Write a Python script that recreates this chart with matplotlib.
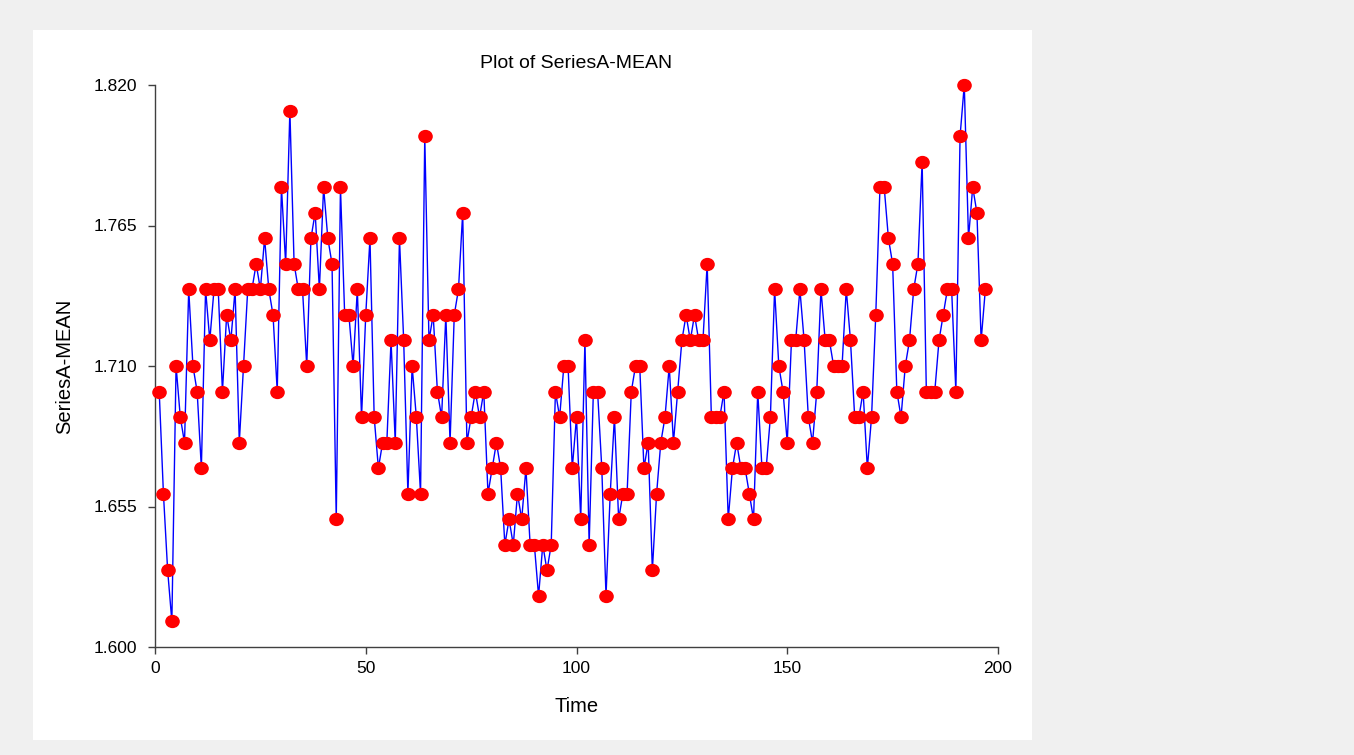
import matplotlib
matplotlib.use("Agg")
import matplotlib.pyplot as plt
from matplotlib.patches import Rectangle
from matplotlib.path import Path
import numpy as np

plt.rcParams['font.family'] = ['Liberation Sans', 'DejaVu Sans']

# series values (time = 1..197)
series_a_mean = [
    1.70, 1.66, 1.63, 1.61, 1.71, 1.69, 1.68, 1.74, 1.71, 1.70,
    1.67, 1.74, 1.72, 1.74, 1.74, 1.70, 1.73, 1.72, 1.74, 1.68,
    1.71, 1.74, 1.74, 1.75, 1.74, 1.76, 1.74, 1.73, 1.70, 1.78,
    1.75, 1.81, 1.75, 1.74, 1.74, 1.71, 1.76, 1.77, 1.74, 1.78,
    1.76, 1.75, 1.65, 1.78, 1.73, 1.73, 1.71, 1.74, 1.69, 1.73,
    1.76, 1.69, 1.67, 1.68, 1.68, 1.72, 1.68, 1.76, 1.72, 1.66,
    1.71, 1.69, 1.66, 1.80, 1.72, 1.73, 1.70, 1.69, 1.73, 1.68,
    1.73, 1.74, 1.77, 1.68, 1.69, 1.70, 1.69, 1.70, 1.66, 1.67,
    1.68, 1.67, 1.64, 1.65, 1.64, 1.66, 1.65, 1.67, 1.64, 1.64,
    1.62, 1.64, 1.63, 1.64, 1.70, 1.69, 1.71, 1.71, 1.67, 1.69,
    1.65, 1.72, 1.64, 1.70, 1.70, 1.67, 1.62, 1.66, 1.69, 1.65,
    1.66, 1.66, 1.70, 1.71, 1.71, 1.67, 1.68, 1.63, 1.66, 1.68,
    1.69, 1.71, 1.68, 1.70, 1.72, 1.73, 1.72, 1.73, 1.72, 1.72,
    1.75, 1.69, 1.69, 1.69, 1.70, 1.65, 1.67, 1.68, 1.67, 1.67,
    1.66, 1.65, 1.70, 1.67, 1.67, 1.69, 1.74, 1.71, 1.70, 1.68,
    1.72, 1.72, 1.74, 1.72, 1.69, 1.68, 1.70, 1.74, 1.72, 1.72,
    1.71, 1.71, 1.71, 1.74, 1.72, 1.69, 1.69, 1.70, 1.67, 1.69,
    1.73, 1.78, 1.78, 1.76, 1.75, 1.70, 1.69, 1.71, 1.72, 1.74,
    1.75, 1.79, 1.70, 1.70, 1.70, 1.72, 1.73, 1.74, 1.74, 1.70,
    1.80, 1.82, 1.76, 1.78, 1.77, 1.72, 1.74,
]
time = np.arange(1, len(series_a_mean) + 1)

x_ticks = [0, 50, 100, 150, 200]
y_ticks = [1.600, 1.655, 1.710, 1.765, 1.820]

fig = plt.figure(figsize=(13.54, 7.55), dpi=100)
fig.patch.set_facecolor('#f0f0f0')
# white panel behind the chart
fig.patches.append(Rectangle((33 / 1354, 15 / 755), 999 / 1354, 710 / 755,
                             transform=fig.transFigure, facecolor='white',
                             edgecolor='none', zorder=-5))

ax = fig.add_axes([155 / 1354, 108 / 755, 843 / 1354, 562 / 755])
ax.set_zorder(1)
ax.set_facecolor('white')

# slightly flattened dot, like the original markers
circ = Path.unit_circle()
ellipse = Path(circ.vertices * np.array([1.0, 0.9]), circ.codes)

ax.plot(time, series_a_mean, color='#0000ff', lw=1.0, zorder=2)
ax.plot(time, series_a_mean, ls='none', marker=ellipse, ms=9.5,
        mfc='#ff0000', mec='#ff0000', zorder=3, clip_on=False)

ax.set_xlim(0, 200)
ax.set_ylim(1.600, 1.820)
ax.set_xticks(x_ticks)
ax.set_yticks(y_ticks)
ax.set_yticklabels([f"{v:.3f}" for v in y_ticks])

for s in ['top', 'right']:
    ax.spines[s].set_visible(False)
for s in ['left', 'bottom']:
    ax.spines[s].set_color('#404040')
    ax.spines[s].set_linewidth(1.0)
ax.tick_params(direction='out', length=5, width=1, color='#404040',
               labelsize=12.5)
ax.tick_params(axis='y', pad=8)
ax.tick_params(axis='x', pad=5)

ax.set_title("Plot of SeriesA-MEAN", fontsize=14, pad=12)
ax.set_xlabel("Time", fontsize=14.5, labelpad=15)
ax.set_ylabel("SeriesA-MEAN", fontsize=14.5, labelpad=14)

fig.savefig("out.png", dpi=100, facecolor=fig.get_facecolor())
